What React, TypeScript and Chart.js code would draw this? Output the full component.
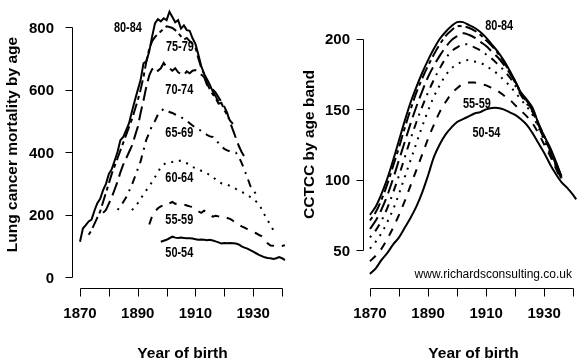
import { useEffect, useRef } from "react";
import { Chart, registerables } from "chart.js";

Chart.register(...registerables);

// ---------- categories ----------
const ageBands = ["50-54", "55-59", "60-64", "65-69", "70-74", "75-79", "80-84"];

// ---------- left panel: lung cancer mortality by age (first birth year of each band) ----------
const mortStartYear = [1898, 1894, 1888, 1883, 1878, 1873, 1870];

const mort5054 = [113, 116, 119, 124, 129, 126, 125, 126, 125, 124, 124, 123, 121, 119, 120, 119, 118, 119, 117, 114,
  111, 107, 109, 108, 109, 108, 107, 104, 98, 94, 91, 86, 81, 76, 71, 67, 63, 61, 60, 58, 60, 64, 60, 54];
const mort5559 = [168, 195, 210, 220, 226, 230, 228, 236, 240, 234, 236, 233, 232, 229, 226, 224, 215, 210, 205, 212,
  208, 200, 193, 196, 194, 190, 192, 189, 186, 180, 172, 168, 162, 158, 153, 149, 145, 140, 135, 130, 120, 108, 101, 100, 98, 97, 99, 102];
const mort6064 = [214, 224, 236, 250, 265, 278, 290, 305, 320, 335, 352, 360, 366, 369, 368, 372, 371, 373, 367, 364,
  360, 352, 348, 346, 340, 338, 332, 326, 321, 312, 305, 300, 298, 296, 291, 288, 282, 278, 272, 268,
  262, 256, 250, 242, 233, 216, 198, 182, 166, 150];
const mort6569 = [215, 225, 240, 255, 275, 295, 320, 345, 370, 405, 440, 462, 485, 500, 520, 530, 538, 535, 528, 525,
  520, 515, 512, 505, 500, 492, 485, 478, 472, 468, 460, 455, 450, 448, 440, 428, 418, 410, 405, 402,
  400, 398, 385, 365, 342, 318, 292, 278, 265, 255];
const mort7074 = [205, 215, 235, 255, 280, 305, 335, 360, 380, 400, 420, 450, 480, 525, 565, 610, 645, 665, 672, 660,
  668, 685, 672, 668, 660, 668, 655, 650, 646, 658, 652, 660, 662, 657, 648, 640, 615, 607, 600, 590,
  575, 560, 545, 525, 495, 470, 445, 420, 400, 385];
const mort7579 = [135, 150, 170, 190, 210, 240, 270, 300, 330, 355, 380, 405, 430, 455, 480, 505, 535, 565, 600, 640,
  690, 730, 755, 768, 778, 786, 795, 802, 800, 797, 790, 781, 770, 760, 765, 755, 745, 735, 700, 670,
  650, 620, 600, 585, 572, 555, 557, 535, 518, 500, 490];
const mort8084 = [113, 155, 166, 178, 184, 212, 236, 250, 278, 298, 330, 345, 372, 400, 438, 448, 470, 492, 530, 565,
  598, 630, 684, 690, 722, 770, 812, 825, 818, 828, 822, 849, 832, 815, 822, 795, 805, 790, 788, 764,
  746, 712, 675, 650, 633, 615, 594, 578, 562];

// ---------- right panel: CCTCC by age band ----------
const cctccYears = [1870, 1872, 1874, 1876, 1878, 1880, 1882, 1884, 1886, 1888, 1890, 1892, 1894, 1896, 1898, 1900,
  1902, 1904, 1906, 1908, 1910, 1912, 1914, 1916, 1918, 1920, 1922, 1924, 1926, 1928, 1930, 1932, 1934, 1936,
  1938, 1940, 1941];
const cctcc5054 = [33, 37, 43, 48, 54, 59, 66, 73, 81, 91, 103, 116, 125, 132, 137, 141, 143, 145, 147, 148, 150, 151,
  151, 150, 148, 146, 143, 139, 133, 126, 119, 111, 104, 98, 94, 89, 86];
const cctcc5559 = [42, 46, 51, 58, 66, 75, 85, 96, 107, 118, 129, 139, 148, 155, 161, 165, 168, 169, 169, 168, 167,
  165, 163, 160, 157, 153, 149, 145, 140, 133, 125, 117, 108, 99];
const cctcc6064 = [51, 56, 62, 70, 79, 90, 102, 114, 126, 138, 149, 159, 167, 174, 179, 182, 184, 185, 184, 183, 181,
  178, 175, 171, 167, 162, 157, 152, 146, 137, 128, 119, 109, 100];
const cctcc6569 = [59, 64, 71, 80, 91, 103, 116, 129, 141, 152, 162, 171, 179, 186, 191, 194, 196, 196, 194, 192, 189,
  186, 182, 178, 173, 167, 160, 154, 148, 138, 129, 120, 110, 100];
const cctcc7074 = [65, 71, 79, 89, 101, 114, 127, 140, 152, 163, 173, 181, 188, 194, 199, 202, 204, 203, 201, 198, 195,
  191, 187, 182, 176, 169, 161, 155, 149, 139, 130, 121, 111, 101];
const cctcc7579 = [71, 77, 86, 97, 110, 123, 137, 150, 162, 172, 181, 189, 196, 202, 206, 209, 209, 208, 206, 203, 199,
  195, 190, 184, 177, 170, 162, 156, 150, 140, 131, 122, 112, 102];
const cctcc8084 = [75, 81, 90, 101, 114, 128, 142, 155, 166, 176, 185, 193, 200, 205, 209, 212, 212, 210, 208, 205, 201,
  196, 191, 185, 178, 170, 162, 157, 151, 140, 131, 123, 113, 102];

// ---------- ticks ----------
const xTickYears = [1870, 1880, 1890, 1900, 1910, 1920, 1930, 1940];
const xTickLabelYears = [1870, 1890, 1910, 1930];
const mortYTicks = [0, 200, 400, 600, 800];
const cctccYTicks = [50, 100, 150, 200];

// ---------- in-plot labels (data coordinates) ----------
const mortLabelText = ["80-84", "75-79", "70-74", "65-69", "60-64", "55-59", "50-54"];
const mortLabelYear = [1886.6, 1904.6, 1904.4, 1904.4, 1904.4, 1904.4, 1904.4];
const mortLabelValue = [797, 734, 597, 461, 317, 182, 77];
const cctccLabelText = ["80-84", "55-59", "50-54"];
const cctccLabelYear = [1914.5, 1906.8, 1910.1];
const cctccLabelValue = [209, 154, 133];

const dashes: number[][] = [[], [8, 8], [2, 6], [2, 6, 8, 6], [14, 6], [4, 4, 12, 4], []];

const mortSeries = [mort5054, mort5559, mort6064, mort6569, mort7074, mort7579, mort8084];
const cctccSeries = [cctcc5054, cctcc5559, cctcc6064, cctcc6569, cctcc7074, cctcc7579, cctcc8084];

const rAxesPlugin = {
  id: "raxes",
  afterDraw(chart: any, _args: any, o: any) {
    const ctx = chart.ctx as CanvasRenderingContext2D;
    const xs = chart.scales.x;
    const ys = chart.scales.y;
    const ca = chart.chartArea;
    ctx.save();
    ctx.strokeStyle = "#000";
    ctx.fillStyle = "#000";
    ctx.lineWidth = 1;

    // y axis
    const ax = Math.round(ca.left) + 0.5;
    const yT = o.yTicks as number[];
    ctx.beginPath();
    ctx.moveTo(ax, Math.round(ys.getPixelForValue(yT[yT.length - 1])) + 0.5);
    ctx.lineTo(ax, Math.round(ys.getPixelForValue(yT[0])) + 0.5);
    yT.forEach((t) => {
      const py = Math.round(ys.getPixelForValue(t)) + 0.5;
      ctx.moveTo(ax - 7, py);
      ctx.lineTo(ax, py);
    });
    ctx.stroke();
    ctx.font = o.tickFont;
    ctx.textAlign = "right";
    ctx.textBaseline = "alphabetic";
    yT.forEach((t) => {
      const py = ys.getPixelForValue(t);
      ctx.fillText(String(t), o.yLabelRight, py + 5.5);
    });

    // x axis
    const ay = Math.round(ca.bottom) + 0.5;
    const xT = o.xTicks as number[];
    ctx.beginPath();
    ctx.moveTo(Math.round(xs.getPixelForValue(xT[0])) + 0.5, ay);
    ctx.lineTo(Math.round(xs.getPixelForValue(xT[xT.length - 1])) + 0.5, ay);
    xT.forEach((t) => {
      const px = Math.round(xs.getPixelForValue(t)) + 0.5;
      ctx.moveTo(px, ay);
      ctx.lineTo(px, ay + 8);
    });
    ctx.stroke();
    ctx.textAlign = "center";
    (o.xLabels as number[]).forEach((t) => {
      ctx.fillText(String(t), xs.getPixelForValue(t), 318);
    });

    // titles
    ctx.font = o.titleFont;
    ctx.fillText(o.xTitle, (ca.left + ca.right) / 2, 358);
    ctx.save();
    ctx.translate(o.yTitleX, (ca.top + ca.bottom) / 2);
    ctx.rotate(-Math.PI / 2);
    ctx.textAlign = "center";
    ctx.fillText(o.yTitle, 0, 0);
    ctx.restore();

    // in-plot labels (narrowed bold sans)
    ctx.font = o.labelFont;
    ctx.textAlign = "center";
    ctx.textBaseline = "middle";
    (o.labels as string[]).forEach((s, i) => {
      const px = xs.getPixelForValue(o.labelX[i]);
      const py = ys.getPixelForValue(o.labelY[i]);
      ctx.save();
      ctx.translate(px, py);
      ctx.scale(0.78, 1);
      ctx.fillText(s, 0, 0);
      ctx.restore();
    });

    if (o.note) {
      ctx.font = o.noteFont;
      ctx.textAlign = "right";
      ctx.textBaseline = "alphabetic";
      ctx.fillText(o.note, o.noteX, o.noteY);
    }
    ctx.restore();
  },
};

const TICK_FONT = "bold 15px 'Liberation Sans', Arial, sans-serif";
const TITLE_FONT = "bold 15.5px 'Liberation Sans', Arial, sans-serif";
const LABEL_FONT = "bold 14px 'Liberation Sans', Arial, sans-serif";

function makeConfig(kind: "mort" | "cctcc"): any {
  const datasets = ageBands.map((band, i) => {
    let data;
    if (kind === "mort") {
      data = mortSeries[i].map((v, j) => ({ x: mortStartYear[i] + j, y: v }));
    } else {
      data = cctccSeries[i].map((v, j) => ({ x: cctccYears[j], y: v }));
    }
    return {
      label: band,
      data,
      borderColor: "#000",
      borderWidth: 2,
      borderDash: dashes[i],
      borderCapStyle: "butt",
      pointRadius: 0,
      tension: kind === "mort" ? 0 : 0.35,
      fill: false,
    };
  });
  const isMort = kind === "mort";
  return {
    type: "line",
    data: { datasets },
    options: {
      animation: false,
      responsive: false,
      devicePixelRatio: 1,
      events: [],
      layout: isMort
        ? { padding: { left: 72, right: 7, top: 1, bottom: 72 } }
        : { padding: { left: 63, right: 1, top: 1, bottom: 72 } },
      scales: {
        x: {
          type: "linear",
          display: false,
          min: isMort ? 1867.23 : 1867.6,
          max: isMort ? 1943.8 : 1943.7,
        },
        y: {
          type: "linear",
          display: false,
          min: isMort ? -35.2 : 23,
          max: isMort ? 883.2 : 227,
        },
      },
      plugins: {
        legend: { display: false },
        tooltip: { enabled: false },
        raxes: {
          yTicks: isMort ? mortYTicks : cctccYTicks,
          xTicks: xTickYears,
          xLabels: xTickLabelYears,
          yLabelRight: isMort ? 54 : 50,
          tickFont: TICK_FONT,
          titleFont: TITLE_FONT,
          labelFont: LABEL_FONT,
          xTitle: "Year of birth",
          yTitle: isMort ? "Lung cancer mortality by age" : "CCTCC by age band",
          yTitleX: isMort ? 17 : 14,
          labels: isMort ? mortLabelText : cctccLabelText,
          labelX: isMort ? mortLabelYear : cctccLabelYear,
          labelY: isMort ? mortLabelValue : cctccLabelValue,
          note: isMort ? null : "www.richardsconsulting.co.uk",
          noteFont: "12px 'Liberation Sans', Arial, sans-serif",
          noteX: 272,
          noteY: 278,
        },
      },
    },
    plugins: [rAxesPlugin],
  };
}

export default function App() {
  const leftRef = useRef<HTMLCanvasElement>(null);
  const rightRef = useRef<HTMLCanvasElement>(null);
  useEffect(() => {
    const c1 = new Chart(leftRef.current!, makeConfig("mort"));
    const c2 = new Chart(rightRef.current!, makeConfig("cctcc"));
    return () => {
      c1.destroy();
      c2.destroy();
    };
  }, []);
  return (
    <div style={{ position: "absolute", left: 0, top: 0, width: 585, height: 360, background: "#fff" }}>
      <canvas ref={leftRef} width={300} height={360} style={{ position: "absolute", left: 0, top: 0, width: 300, height: 360 }} />
      <canvas ref={rightRef} width={285} height={360} style={{ position: "absolute", left: 300, top: 0, width: 285, height: 360 }} />
    </div>
  );
}
